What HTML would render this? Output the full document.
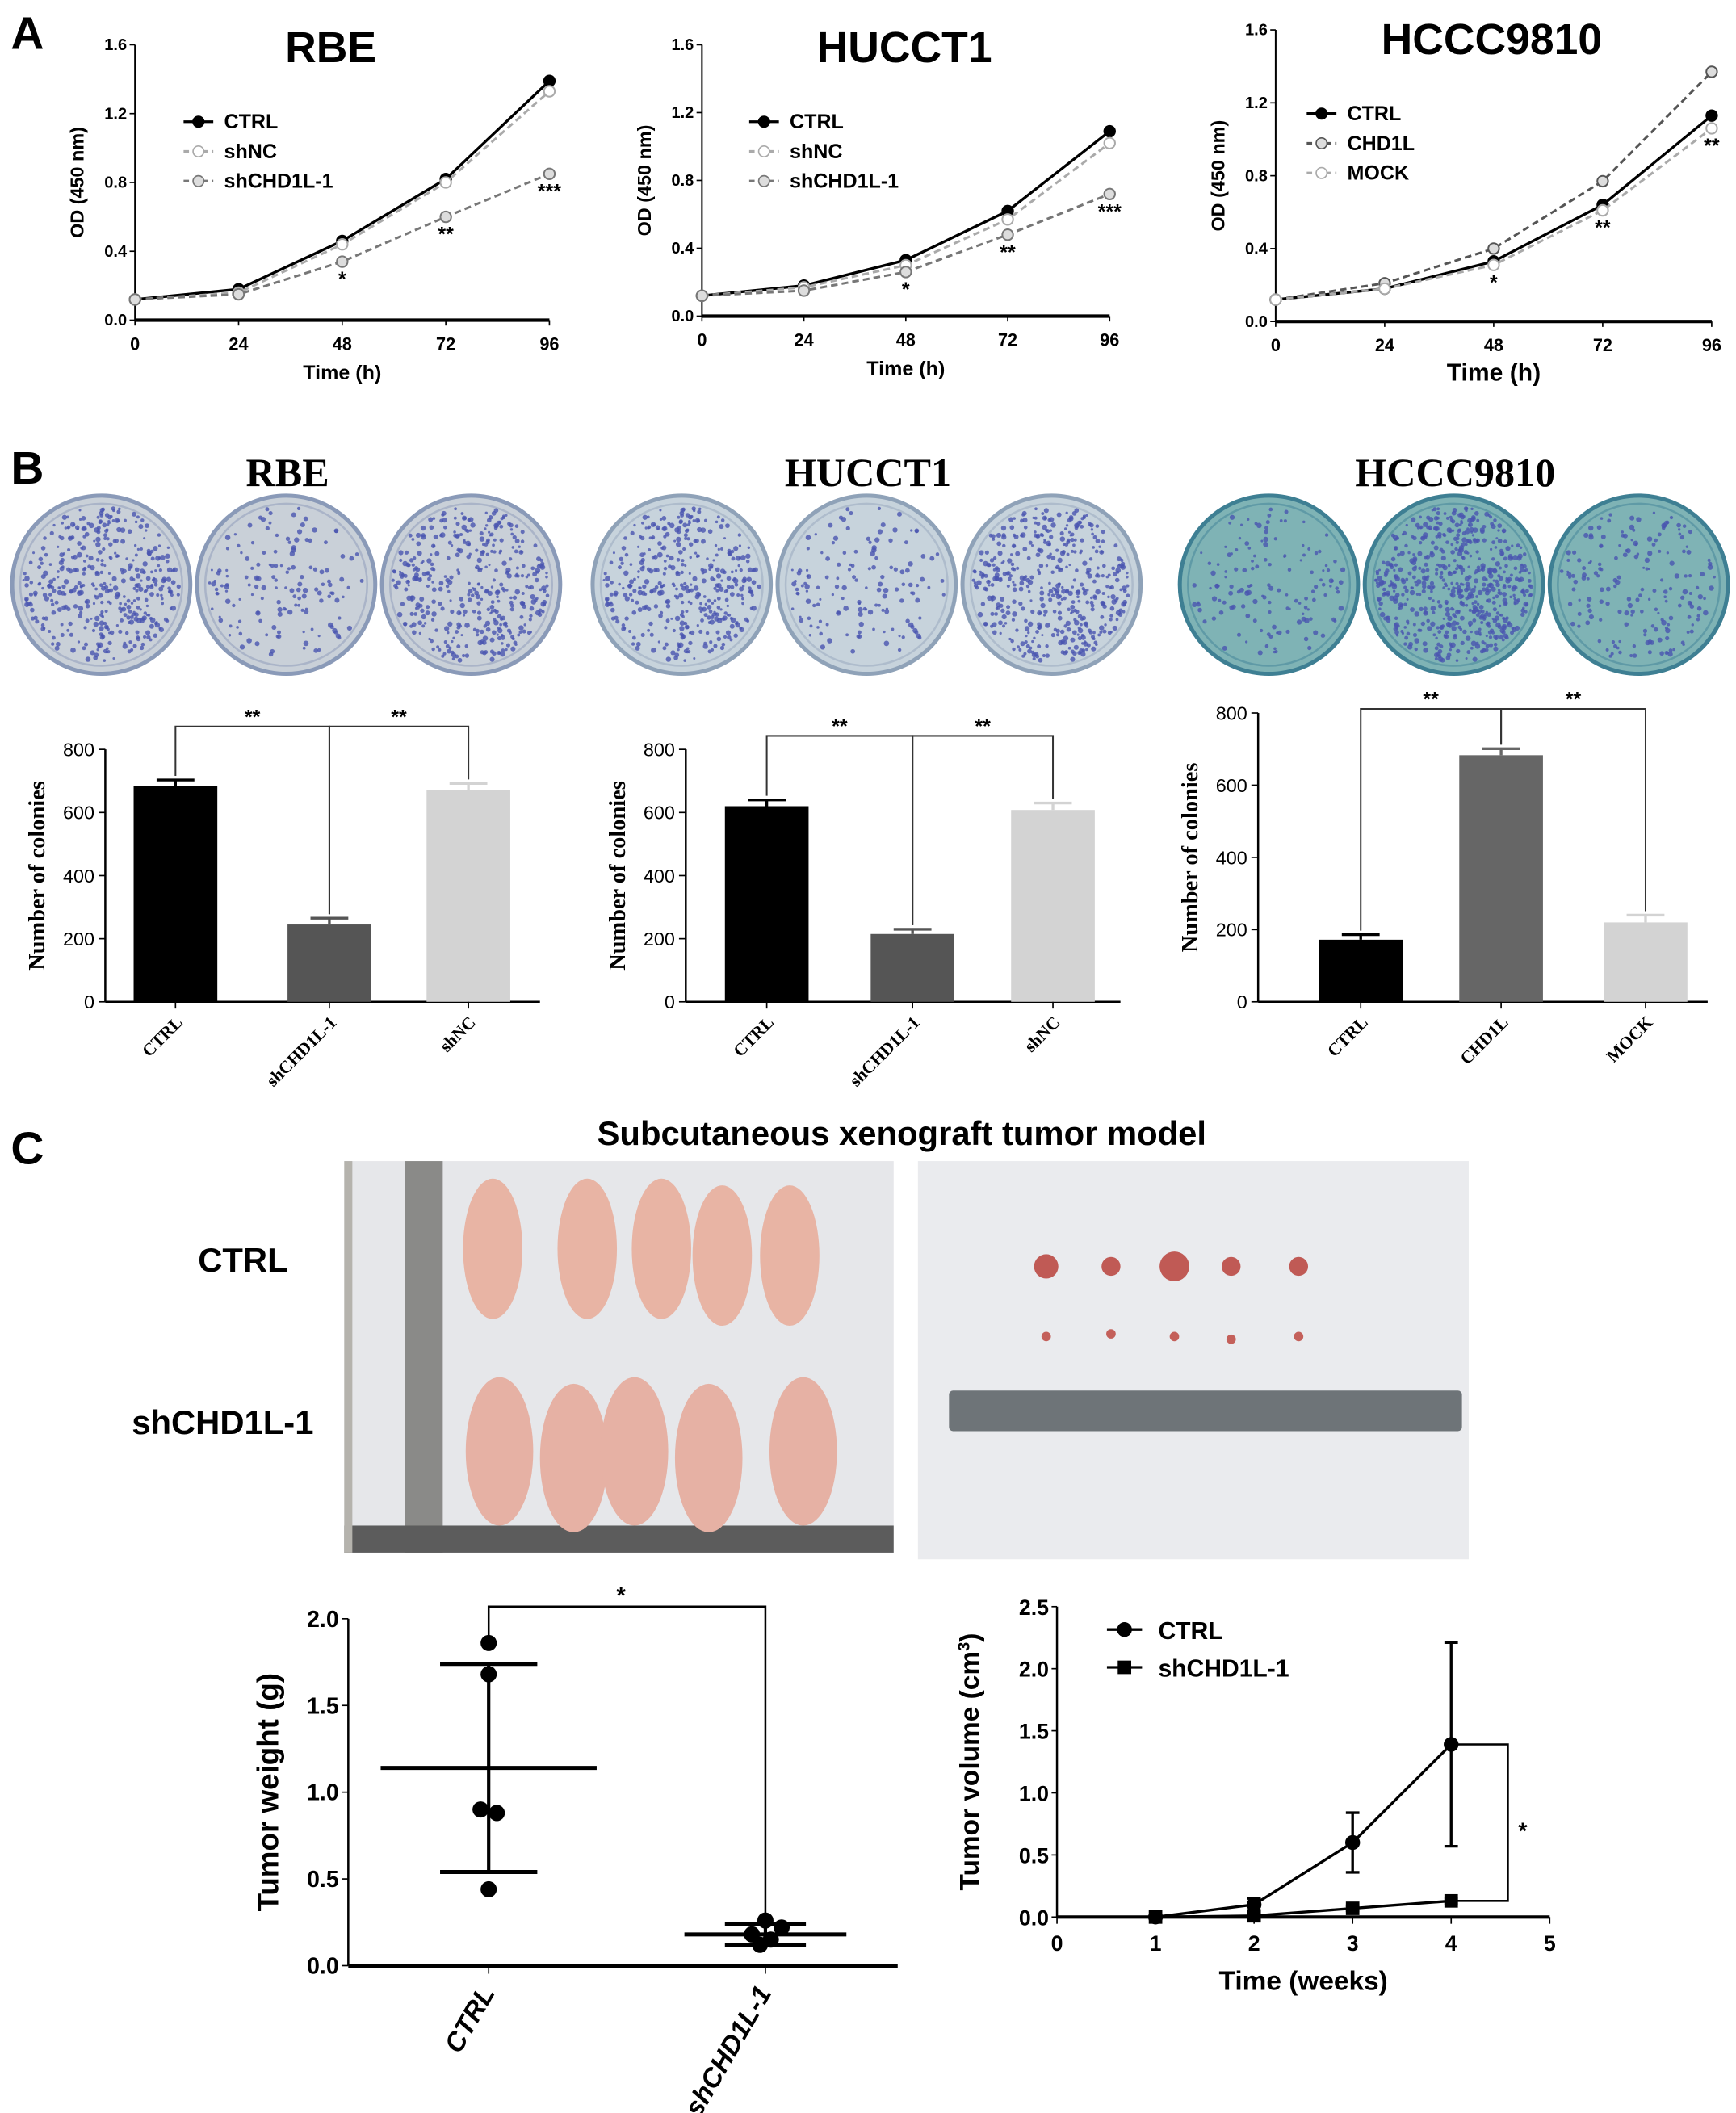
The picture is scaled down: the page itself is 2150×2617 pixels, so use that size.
<!DOCTYPE html>
<html><head><meta charset="utf-8"><style>
html,body{margin:0;padding:0;background:#fff;}
svg{display:block;font-family:"Liberation Sans",Arial,sans-serif;}
</style></head><body>
<svg id="fig" xmlns="http://www.w3.org/2000/svg" width="2150" height="2617" viewBox="0 0 1286 1565">
<rect width="1286" height="1565" fill="#fff"/>
<g id="root"></g>
</svg>
<script>
// ---------- Panel A data ----------
const timeHours = [0, 24, 48, 72, 96];
const odTicks = [0.0, 0.4, 0.8, 1.2, 1.6];
const rbeCtrl = [0.12, 0.18, 0.46, 0.82, 1.39];
const rbeShNC = [0.12, 0.16, 0.44, 0.80, 1.33];
const rbeShCHD1L = [0.12, 0.15, 0.34, 0.60, 0.85];
const rbeStars = ["", "", "*", "**", "***"];
const hucCtrl = [0.12, 0.18, 0.33, 0.62, 1.09];
const hucShNC = [0.12, 0.17, 0.30, 0.57, 1.02];
const hucShCHD1L = [0.12, 0.15, 0.26, 0.48, 0.72];
const hucStars = ["", "", "*", "**", "***"];
const hcccCtrl = [0.12, 0.18, 0.33, 0.64, 1.13];
const hcccCHD1L = [0.12, 0.21, 0.40, 0.77, 1.37];
const hcccMock = [0.12, 0.18, 0.31, 0.61, 1.06];
const hcccStars = ["", "", "*", "**", "**"];
// ---------- Panel B data ----------
const colonyTicks = [0, 200, 400, 600, 800];
const rbeGroups = ["CTRL", "shCHD1L-1", "shNC"];
const rbeColonies = [685, 245, 672];
const rbeColonyErr = [18, 20, 20];
const hucGroups = ["CTRL", "shCHD1L-1", "shNC"];
const hucColonies = [620, 215, 608];
const hucColonyErr = [20, 15, 22];
const hcccGroups = ["CTRL", "CHD1L", "MOCK"];
const hcccColonies = [172, 683, 220];
const hcccColonyErr = [14, 18, 20];
// ---------- Panel C data ----------
const weightTicks = [0.0, 0.5, 1.0, 1.5, 2.0];
const weightGroups = ["CTRL", "shCHD1L-1"];
const weightCtrl = [1.86, 1.68, 0.90, 0.88, 0.44];
const weightSh = [0.26, 0.22, 0.18, 0.15, 0.12];
const weightMean = [1.14, 0.18];
const weightSD = [0.60, 0.06];
const weeks = [1, 2, 3, 4];
const weekTicks = [0, 1, 2, 3, 4, 5];
const volumeTicks = [0.0, 0.5, 1.0, 1.5, 2.0, 2.5];
const volumeCtrl = [0.0, 0.10, 0.60, 1.39];
const volumeCtrlErr = [0.01, 0.05, 0.24, 0.82];
const volumeSh = [0.0, 0.01, 0.07, 0.13];
const volumeShErr = [0.005, 0.01, 0.02, 0.02];

const NS = "http://www.w3.org/2000/svg";
const root = document.getElementById("root");
function el(tag, attrs, parent, name) {
  const e = document.createElementNS(NS, tag);
  for (const k in attrs) e.setAttribute(k, attrs[k]);
  
  
  (parent || root).appendChild(e);
  return e;
}
function txt(s, x, y, size, parent, name, extra) {
  const a = Object.assign({x: x, y: y, 'font-size': size, 'font-weight': 'bold', fill: '#000'}, extra || {});
  const t = el('text', a, parent, name);
  t.textContent = s;
  return t;
}
function lin(d0, d1, r0, r1) { return v => r0 + (v - d0) / (d1 - d0) * (r1 - r0); }

// Panel labels
txt("A", 8, 36, 34, root, "panel-label-a");
txt("B", 8, 358, 34, root, "panel-label-b");
txt("C", 8, 862, 34, root, "panel-label-c");

// ---------- Growth curves ----------
function growth(cfg) {
  const g = el('g', {}, root, cfg.name);
  const X = lin(0, 96, cfg.x0, cfg.x1), Y = lin(0, 1.6, cfg.yb, cfg.yt);
  txt(cfg.title, cfg.tx, cfg.ty, 32, g, "chart-title", {'text-anchor': 'middle'});
  el('line', {x1: cfg.x0, y1: cfg.yt, x2: cfg.x0, y2: cfg.yb, stroke: '#000', 'stroke-width': 1.2}, g, "y-axis");
  el('line', {x1: cfg.x0, y1: cfg.yb, x2: cfg.x1, y2: cfg.yb, stroke: '#000', 'stroke-width': 2.5}, g, "x-axis");
  odTicks.forEach(v => {
    el('line', {x1: cfg.x0 - 4, y1: Y(v), x2: cfg.x0, y2: Y(v), stroke: '#000'}, g, "y-tick");
    txt(v.toFixed(1), cfg.x0 - 6, Y(v) + 4, 12, g, "y-tick-label", {'text-anchor': 'end'});
  });
  timeHours.forEach(v => {
    el('line', {x1: X(v), y1: cfg.yb, x2: X(v), y2: cfg.yb + 4, stroke: '#000'}, g, "x-tick");
    txt(String(v), X(v), cfg.yb + 22, 13, g, "x-tick-label", {'text-anchor': 'middle'});
  });
  txt("Time  (h)", (cfg.x0 + cfg.x1) / 2, cfg.yb + 44, cfg.big ? 18 : 15, g, "x-axis-title", {'text-anchor': 'middle'});
  const ym = (cfg.yt + cfg.yb) / 2;
  txt("OD (450 nm)", 0, 0, 14, g, "y-axis-title", {'text-anchor': 'middle', transform: `translate(${cfg.x0 - 38},${ym}) rotate(-90)`});
  cfg.series.forEach((s, si) => {
    const pts = s.vals.map((v, i) => X(timeHours[i]) + "," + Y(v)).join(" ");
    el('polyline', {points: pts, fill: 'none', stroke: s.color, 'stroke-width': s.dash ? 1.8 : 2, 'stroke-dasharray': s.dash ? '5,3' : 'none'}, g, "series-line-" + s.key);
    s.vals.forEach((v, i) => {
      el('circle', {cx: X(timeHours[i]), cy: Y(v), r: 4, fill: s.fill, stroke: s.color, 'stroke-width': 1.2}, g, "point-" + s.key);
    });
    const ly = cfg.ly + si * 22;
    el('line', {x1: cfg.lx, y1: ly, x2: cfg.lx + 22, y2: ly, stroke: s.color, 'stroke-width': 2, 'stroke-dasharray': s.dash ? '4,3' : 'none'}, g, "legend-line");
    el('circle', {cx: cfg.lx + 11, cy: ly, r: 4, fill: s.fill, stroke: s.color}, g, "legend-marker");
    txt(s.label, cfg.lx + 30, ly + 5, 15, g, "legend-entry");
  });
  cfg.stars.forEach((s, i) => {
    if (s) txt(s, X(timeHours[i]), Y(cfg.starBase[i]) + 18, 15, g, "significance-star", {'text-anchor': 'middle'});
  });
}
growth({name: "rbe-growth-chart", title: "RBE", tx: 245, ty: 46, x0: 100, x1: 407, yt: 33, yb: 237, lx: 136, ly: 90,
  series: [{key: 'ctrl', label: 'CTRL', vals: rbeCtrl, color: '#000', fill: '#000'},
           {key: 'shnc', label: 'shNC', vals: rbeShNC, color: '#aaa', fill: '#fff', dash: 1},
           {key: 'shchd1l', label: 'shCHD1L-1', vals: rbeShCHD1L, color: '#777', fill: '#ddd', dash: 1}],
  stars: rbeStars, starBase: rbeShCHD1L});
growth({name: "hucct1-growth-chart", title: "HUCCT1", tx: 670, ty: 46, x0: 520, x1: 822, yt: 33, yb: 234, lx: 555, ly: 90,
  series: [{key: 'ctrl', label: 'CTRL', vals: hucCtrl, color: '#000', fill: '#000'},
           {key: 'shnc', label: 'shNC', vals: hucShNC, color: '#aaa', fill: '#fff', dash: 1},
           {key: 'shchd1l', label: 'shCHD1L-1', vals: hucShCHD1L, color: '#777', fill: '#ddd', dash: 1}],
  stars: hucStars, starBase: hucShCHD1L});
growth({name: "hccc9810-growth-chart", title: "HCCC9810", tx: 1105, ty: 40, x0: 945, x1: 1268, yt: 22, yb: 238, lx: 968, ly: 84, big: 1,
  series: [{key: 'ctrl', label: 'CTRL', vals: hcccCtrl, color: '#000', fill: '#000'},
           {key: 'chd1l', label: 'CHD1L', vals: hcccCHD1L, color: '#555', fill: '#ddd', dash: 1},
           {key: 'mock', label: 'MOCK', vals: hcccMock, color: '#aaa', fill: '#fff', dash: 1}],
  stars: hcccStars, starBase: hcccMock});

// ---------- Panel B: plates ----------
function plates(cx0, title, bg, dotCounts, name) {
  const g = el('g', {}, root, name);
  txt(title, cx0 + 138, 360, 30, g, "plate-title", {'text-anchor': 'middle', 'font-family': '"Liberation Serif",serif'});
  let seed = 7;
  function rnd() { seed = (seed * 9301 + 49297) % 233280; return seed / 233280; }
  [0, 1, 2].forEach(i => {
    const cx = cx0 + i * 137, cy = 433;
    el('circle', {cx: cx, cy: cy, r: 66, fill: bg[0], stroke: bg[1], 'stroke-width': 3}, g, "culture-plate");
    el('circle', {cx: cx, cy: cy, r: 60, fill: 'none', stroke: bg[2], 'stroke-width': 1.5}, g, "plate-rim");
    for (let k = 0; k < dotCounts[i]; k++) {
      const a = rnd() * 6.283, r = Math.sqrt(rnd()) * 58;
      el('circle', {cx: cx + r * Math.cos(a), cy: cy + r * Math.sin(a), r: 0.9 + rnd() * 1.1, fill: '#4a55b0', opacity: 0.8}, g, "colony");
    }
  });
}
plates(75, "RBE", ['#c9d0d8', '#8a9ab8', '#aab4c8'], [420, 150, 400], "rbe-plates");
plates(505, "HUCCT1", ['#c7d3dc', '#8fa2b8', '#aebccc'], [400, 140, 450], "hucct1-plates");
plates(940, "HCCC9810", ['#7fb3b5', '#3e7f93', '#5f9aa6'], [140, 600, 180], "hccc9810-plates");

// ---------- Panel B: bar charts ----------
function bars(cfg) {
  const g = el('g', {}, root, cfg.name);
  const Y = lin(0, 800, cfg.yb, cfg.yt);
  el('line', {x1: cfg.x0, y1: cfg.yt, x2: cfg.x0, y2: cfg.yb, stroke: '#000', 'stroke-width': 1.5}, g, "y-axis");
  el('line', {x1: cfg.x0, y1: cfg.yb, x2: cfg.xe, y2: cfg.yb, stroke: '#000', 'stroke-width': 1.5}, g, "x-axis");
  colonyTicks.forEach(v => {
    el('line', {x1: cfg.x0 - 5, y1: Y(v), x2: cfg.x0, y2: Y(v), stroke: '#000'}, g, "y-tick");
    txt(String(v), cfg.x0 - 8, Y(v) + 5, 14, g, "y-tick-label", {'text-anchor': 'end', 'font-weight': 'normal'});
  });
  txt("Number of colonies", 0, 0, 17, g, "y-axis-title", {'text-anchor': 'middle', 'font-family': '"Liberation Serif",serif', transform: `translate(${cfg.x0 - 45},${(cfg.yt + cfg.yb) / 2}) rotate(-90)`});
  const cols = cfg.colors;
  cfg.vals.forEach((v, i) => {
    const cx = cfg.cx[i];
    el('rect', {x: cx - 31, y: Y(v), width: 62, height: cfg.yb - Y(v), fill: cols[i]}, g, "bar-" + cfg.groups[i].toLowerCase());
    const top = Y(v + cfg.err[i]);
    el('line', {x1: cx, y1: Y(v), x2: cx, y2: top, stroke: cols[i], 'stroke-width': 2}, g, "error-bar");
    el('line', {x1: cx - 14, y1: top, x2: cx + 14, y2: top, stroke: cols[i], 'stroke-width': 2}, g, "error-cap");
    el('line', {x1: cx, y1: cfg.yb, x2: cx, y2: cfg.yb + 5, stroke: '#000'}, g, "x-tick");
    txt(cfg.groups[i], 0, 0, 13, g, "x-tick-label", {'text-anchor': 'end', 'font-family': '"Liberation Serif",serif', transform: `translate(${cx + 6},${cfg.yb + 16}) rotate(-45)`});
  });
  const by = cfg.by;
  const pairs = [[0, 1], [1, 2]];
  pairs.forEach(p => {
    const a = cfg.cx[p[0]], b = cfg.cx[p[1]];
    const ya = Y(cfg.vals[p[0]] + cfg.err[p[0]]) - 3, yb2 = Y(cfg.vals[p[1]] + cfg.err[p[1]]) - 3;
    el('polyline', {points: `${a},${ya} ${a},${by} ${b},${by} ${b},${yb2}`, fill: 'none', stroke: '#333', 'stroke-width': 1.2}, g, "significance-bracket");
    txt("**", (a + b) / 2, by - 2, 15, g, "significance-star", {'text-anchor': 'middle'});
  });
}
bars({name: "rbe-colony-chart", x0: 78, xe: 400, yt: 555, yb: 742, cx: [130, 244, 347], vals: rbeColonies, err: rbeColonyErr, groups: rbeGroups, colors: ['#000', '#555', '#d3d3d3'], by: 538});
bars({name: "hucct1-colony-chart", x0: 508, xe: 830, yt: 555, yb: 742, cx: [568, 676, 780], vals: hucColonies, err: hucColonyErr, groups: hucGroups, colors: ['#000', '#555', '#d3d3d3'], by: 545});
bars({name: "hccc9810-colony-chart", x0: 932, xe: 1265, yt: 528, yb: 742, cx: [1008, 1112, 1219], vals: hcccColonies, err: hcccColonyErr, groups: hcccGroups, colors: ['#000', '#666', '#d3d3d3'], by: 525});

// ---------- Panel C: title & photos ----------
txt("Subcutaneous xenograft tumor model", 668, 848, 25, root, "panel-c-title", {'text-anchor': 'middle'});
txt("CTRL", 180, 942, 25, root, "row-label-ctrl", {'text-anchor': 'middle'});
txt("shCHD1L-1", 165, 1062, 25, root, "row-label-shchd1l", {'text-anchor': 'middle'});
(function () {
  const g = el('g', {}, root, "mice-photo");
  el('rect', {x: 255, y: 860, width: 407, height: 290, fill: '#e6e7ea'}, g, "photo-background");
  el('rect', {x: 300, y: 860, width: 28, height: 290, fill: '#8a8a88'}, g, "ruler");
  el('rect', {x: 255, y: 1130, width: 407, height: 20, fill: '#5c5c5c'}, g, "photo-bottom-edge");
  el('rect', {x: 255, y: 860, width: 6, height: 290, fill: '#b5b3ad'}, g, "photo-left-edge");
  [[365, 925], [435, 925], [490, 925], [535, 930], [585, 930]].forEach(p => {
    el('ellipse', {cx: p[0], cy: p[1], rx: 22, ry: 52, fill: '#e8b4a4'}, g, "mouse-ctrl");
  });
  [[370, 1075], [425, 1080], [470, 1075], [525, 1080], [595, 1075]].forEach(p => {
    el('ellipse', {cx: p[0], cy: p[1], rx: 25, ry: 55, fill: '#e6b1a4'}, g, "mouse-shchd1l");
  });
})();
(function () {
  const g = el('g', {}, root, "tumor-photo");
  el('rect', {x: 680, y: 860, width: 408, height: 295, fill: '#eaebee'}, g, "photo-background");
  el('rect', {x: 703, y: 1030, width: 380, height: 30, fill: '#6e7478', rx: 3}, g, "ruler");
  [[775, 938, 9], [823, 938, 7], [870, 938, 11], [912, 938, 7], [962, 938, 7]].forEach(p => {
    el('circle', {cx: p[0], cy: p[1], r: p[2], fill: '#c05a55'}, g, "tumor-ctrl");
  });
  [[775, 990], [823, 988], [870, 990], [912, 992], [962, 990]].forEach(p => {
    el('circle', {cx: p[0], cy: p[1], r: 3.5, fill: '#c4605a'}, g, "tumor-shchd1l");
  });
})();

// ---------- Tumor weight scatter ----------
(function () {
  const g = el('g', {}, root, "tumor-weight-chart");
  const x0 = 258, yb = 1456, yt = 1199;
  const Y = lin(0, 2, yb, yt);
  const gx = [362, 567];
  el('line', {x1: x0, y1: yt, x2: x0, y2: yb, stroke: '#000', 'stroke-width': 1.5}, g, "y-axis");
  el('line', {x1: x0, y1: yb, x2: 665, y2: yb, stroke: '#000', 'stroke-width': 3}, g, "x-axis");
  weightTicks.forEach(v => {
    el('line', {x1: x0 - 5, y1: Y(v), x2: x0, y2: Y(v), stroke: '#000'}, g, "y-tick");
    txt(v.toFixed(1), x0 - 7, Y(v) + 6, 17, g, "y-tick-label", {'text-anchor': 'end'});
  });
  txt("Tumor weight (g)", 0, 0, 22, g, "y-axis-title", {'text-anchor': 'middle', transform: `translate(${x0 - 52},${(yt + yb) / 2}) rotate(-90)`});
  const sets = [weightCtrl, weightSh];
  const offs = [[0, 0, -6, 6, 0], [0, 12, -10, 4, -4]];
  sets.forEach((s, gi) => {
    const cx = gx[gi];
    const half = gi === 0 ? 80 : 60, sh = gi === 0 ? 36 : 30;
    el('line', {x1: cx, y1: Y(weightMean[gi] + weightSD[gi]), x2: cx, y2: Y(weightMean[gi] - weightSD[gi]), stroke: '#000', 'stroke-width': 2.5}, g, "sd-bar");
    el('line', {x1: cx - half, y1: Y(weightMean[gi]), x2: cx + half, y2: Y(weightMean[gi]), stroke: '#000', 'stroke-width': 3}, g, "mean-line");
    [1, -1].forEach(sg => {
      el('line', {x1: cx - sh, y1: Y(weightMean[gi] + sg * weightSD[gi]), x2: cx + sh, y2: Y(weightMean[gi] + sg * weightSD[gi]), stroke: '#000', 'stroke-width': 3}, g, "sd-cap");
    });
    s.forEach((v, i) => {
      el('circle', {cx: cx + offs[gi][i], cy: Y(v), r: 6, fill: '#000'}, g, "point-" + weightGroups[gi].toLowerCase());
    });
    el('line', {x1: cx, y1: yb, x2: cx, y2: yb + 6, stroke: '#000'}, g, "x-tick");
    txt(weightGroups[gi], 0, 0, 20, g, "x-tick-label", {'text-anchor': 'end', 'font-style': 'italic', transform: `translate(${cx + 5},${yb + 20}) rotate(-60)`});
  });
  el('polyline', {points: `${gx[0]},${Y(1.9)} ${gx[0]},1190 ${gx[1]},1190 ${gx[1]},${Y(0.3)}`, fill: 'none', stroke: '#000', 'stroke-width': 1.5}, g, "significance-bracket");
  txt("*", 460, 1188, 18, g, "significance-star", {'text-anchor': 'middle'});
})();

// ---------- Tumor volume ----------
(function () {
  const g = el('g', {}, root, "tumor-volume-chart");
  const x0 = 783, x1 = 1148, yb = 1420, yt = 1190;
  const X = lin(0, 5, x0, x1), Y = lin(0, 2.5, yb, yt);
  el('line', {x1: x0, y1: yt, x2: x0, y2: yb, stroke: '#000', 'stroke-width': 1.5}, g, "y-axis");
  el('line', {x1: x0, y1: yb, x2: x1, y2: yb, stroke: '#000', 'stroke-width': 2.5}, g, "x-axis");
  volumeTicks.forEach(v => {
    el('line', {x1: x0 - 4, y1: Y(v), x2: x0, y2: Y(v), stroke: '#000'}, g, "y-tick");
    txt(v.toFixed(1), x0 - 6, Y(v) + 6, 16, g, "y-tick-label", {'text-anchor': 'end'});
  });
  weekTicks.forEach(v => {
    el('line', {x1: X(v), y1: yb, x2: X(v), y2: yb + 5, stroke: '#000'}, g, "x-tick");
    txt(String(v), X(v), yb + 25, 16, g, "x-tick-label", {'text-anchor': 'middle'});
  });
  txt("Time (weeks)", (x0 + x1) / 2, yb + 54, 20, g, "x-axis-title", {'text-anchor': 'middle'});
  const yt2 = txt("Tumor volume (cm", 0, 0, 20, g, "y-axis-title", {'text-anchor': 'middle', transform: `translate(${x0 - 58},${(yt + yb) / 2}) rotate(-90)`});
  const sup = document.createElementNS(NS, 'tspan');
  
  
  sup.setAttribute('dy', '-7'); sup.setAttribute('font-size', '12'); sup.textContent = '3';
  yt2.appendChild(sup);
  const sup2 = document.createElementNS(NS, 'tspan');
  
  
  sup2.setAttribute('dy', '7'); sup2.textContent = ')';
  yt2.appendChild(sup2);
  const series = [{k: 'ctrl', v: volumeCtrl, e: volumeCtrlErr, sq: 0}, {k: 'shchd1l', v: volumeSh, e: volumeShErr, sq: 1}];
  series.forEach(s => {
    el('polyline', {points: s.v.map((v, i) => X(weeks[i]) + "," + Y(v)).join(" "), fill: 'none', stroke: '#000', 'stroke-width': 2}, g, "series-line-" + s.k);
    s.v.forEach((v, i) => {
      const x = X(weeks[i]);
      el('line', {x1: x, y1: Y(v + s.e[i]), x2: x, y2: Y(Math.max(0, v - s.e[i])), stroke: '#000', 'stroke-width': 2}, g, "error-bar");
      el('line', {x1: x - 5, y1: Y(v + s.e[i]), x2: x + 5, y2: Y(v + s.e[i]), stroke: '#000', 'stroke-width': 2}, g, "error-cap");
      el('line', {x1: x - 5, y1: Y(Math.max(0, v - s.e[i])), x2: x + 5, y2: Y(Math.max(0, v - s.e[i])), stroke: '#000', 'stroke-width': 2}, g, "error-cap");
      if (s.sq) el('rect', {x: x - 5, y: Y(v) - 5, width: 10, height: 10, fill: '#000'}, g, "point-" + s.k);
      else el('circle', {cx: x, cy: Y(v), r: 5.5, fill: '#000'}, g, "point-" + s.k);
    });
  });
  const bx = 1117, xr = X(weeks[3]);
  el('polyline', {points: `${xr},${Y(volumeCtrl[3])} ${bx},${Y(volumeCtrl[3])} ${bx},${Y(volumeSh[3])} ${xr},${Y(volumeSh[3])}`, fill: 'none', stroke: '#000', 'stroke-width': 1.5}, g, "significance-bracket");
  txt("*", 1128, 1362, 17, g, "significance-star", {'text-anchor': 'middle'});
  el('line', {x1: 820, y1: 1207, x2: 846, y2: 1207, stroke: '#000', 'stroke-width': 2}, g, "legend-line");
  el('circle', {cx: 833, cy: 1207, r: 5.5, fill: '#000'}, g, "legend-marker");
  txt("CTRL", 858, 1214, 18, g, "legend-entry");
  el('line', {x1: 820, y1: 1235, x2: 846, y2: 1235, stroke: '#000', 'stroke-width': 2}, g, "legend-line");
  el('rect', {x: 828, y: 1230, width: 10, height: 10, fill: '#000'}, g, "legend-marker");
  txt("shCHD1L-1", 858, 1242, 18, g, "legend-entry");
})();
</script>
</body></html>
